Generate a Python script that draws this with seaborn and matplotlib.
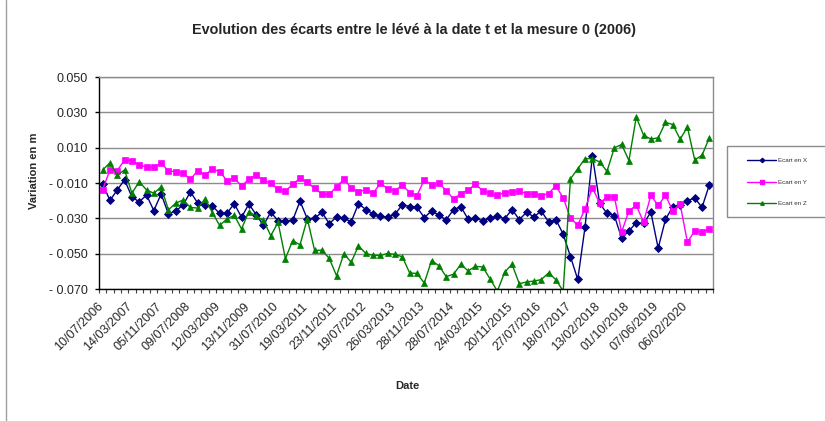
import numpy as np
import seaborn as sns
import matplotlib.pyplot as plt
import matplotlib.transforms as mtransforms
from matplotlib.lines import Line2D
from matplotlib.patches import Rectangle

# Tick labels (one every 4 measurements)
dates = ['10/07/2006', '14/03/2007', '05/11/2007', '09/07/2008', '12/03/2009',
         '13/11/2009', '31/07/2010', '19/03/2011', '23/11/2011', '19/07/2012',
         '26/03/2013', '28/11/2013', '28/07/2014', '24/03/2015', '20/11/2015',
         '27/07/2016', '18/07/2017', '13/02/2018', '01/10/2018', '07/06/2019',
         '06/02/2020']

# Ecart en X (m)
ecart_x = [-0.0105, -0.0199, -0.0139, -0.0082, -0.0179, -0.0207, -0.0168, -0.0256,
           -0.0162, -0.0275, -0.0257, -0.0226, -0.0150, -0.0213, -0.0227, -0.0230,
           -0.0272, -0.0272, -0.0217, -0.0294, -0.0219, -0.0279, -0.0340, -0.0264,
           -0.0315, -0.0315, -0.0311, -0.0203, -0.0303, -0.0299, -0.0266, -0.0330,
           -0.0292, -0.0298, -0.0320, -0.0217, -0.0250, -0.0276, -0.0289, -0.0292,
           -0.0277, -0.0222, -0.0234, -0.0237, -0.0296, -0.0258, -0.0283, -0.0308,
           -0.0251, -0.0234, -0.0305, -0.0300, -0.0313, -0.0300, -0.0288, -0.0302,
           -0.0250, -0.0307, -0.0266, -0.0292, -0.0258, -0.0320, -0.0307, -0.0389,
           -0.0517, -0.0646, -0.0347, 0.0054, -0.0216, -0.0272, -0.0284, -0.0412,
           -0.0371, -0.0325, -0.0329, -0.0265, -0.0469, -0.0306, -0.0234, -0.0227,
           -0.0200, -0.0185, -0.0238, -0.0110]

# Ecart en Y (m)
ecart_y = [-0.0137, -0.0026, -0.0030, 0.0031, 0.0025, 0.0001, -0.0010, -0.0008,
           0.0012, -0.0031, -0.0036, -0.0044, -0.0080, -0.0030, -0.0056, -0.0021,
           -0.0035, -0.0086, -0.0071, -0.0118, -0.0078, -0.0054, -0.0084, -0.0101,
           -0.0136, -0.0147, -0.0107, -0.0073, -0.0097, -0.0131, -0.0162, -0.0165,
           -0.0120, -0.0080, -0.0126, -0.0150, -0.0137, -0.0158, -0.0101, -0.0133,
           -0.0143, -0.0112, -0.0154, -0.0171, -0.0082, -0.0110, -0.0101, -0.0143,
           -0.0190, -0.0160, -0.0139, -0.0107, -0.0144, -0.0158, -0.0169, -0.0154,
           -0.0150, -0.0145, -0.0161, -0.0163, -0.0171, -0.0160, -0.0116, -0.0184,
           -0.0298, -0.0338, -0.0245, -0.0127, -0.0215, -0.0178, -0.0178, -0.0378,
           -0.0257, -0.0227, -0.0321, -0.0170, -0.0227, -0.0170, -0.0257, -0.0219,
           -0.0435, -0.0371, -0.0378, -0.0359]

# Ecart en Z (m)
ecart_z = [-0.0026, 0.0014, -0.0056, -0.0026, -0.0158, -0.0093, -0.0139, -0.0158,
           -0.0122, -0.0252, -0.0214, -0.0196, -0.0238, -0.0242, -0.0191, -0.0267,
           -0.0340, -0.0304, -0.0283, -0.0360, -0.0262, -0.0288, -0.0312, -0.0398,
           -0.0323, -0.0528, -0.0426, -0.0450, -0.0302, -0.0482, -0.0480, -0.0527,
           -0.0625, -0.0500, -0.0549, -0.0455, -0.0499, -0.0510, -0.0510, -0.0499,
           -0.0504, -0.0518, -0.0609, -0.0612, -0.0666, -0.0539, -0.0568, -0.0630,
           -0.0616, -0.0561, -0.0597, -0.0572, -0.0575, -0.0643, -0.0712, -0.0605,
           -0.0560, -0.0670, -0.0660, -0.0655, -0.0647, -0.0609, -0.0647, -0.0712,
           -0.0077, -0.0019, 0.0038, 0.0038, 0.0019, -0.0034, 0.0099, 0.0118,
           0.0027, 0.0273, 0.0171, 0.0148, 0.0156, 0.0243, 0.0231, 0.0148,
           0.0216, 0.0031, 0.0057, 0.0156]

y_ticks = [0.05, 0.03, 0.01, -0.01, -0.03, -0.05, -0.07]
y_labels = ['0.050', '0.030', '0.010', '- 0.010', '- 0.030', '- 0.050', '- 0.070']

sns.set_style('white')
plt.rcParams['font.family'] = ['Liberation Sans', 'DejaVu Sans']

n = len(ecart_x)
idx = np.arange(n)

fig = plt.figure(figsize=(8.25, 4.21), dpi=100)
ax = fig.add_axes([99 / 825, 1 - 289 / 421, 614 / 825, 212 / 421])

sns.lineplot(x=idx, y=ecart_x, ax=ax, color='#000080', lw=1, marker='D',
             markersize=3.8, markeredgecolor='#000080', markeredgewidth=0.6, legend=False)
sns.lineplot(x=idx, y=ecart_y, ax=ax, color='#FF00FF', lw=1, marker='s',
             markersize=5, markeredgecolor='#FF00FF', markeredgewidth=0.5, legend=False)
sns.lineplot(x=idx, y=ecart_z, ax=ax, color='#008000', lw=1, marker='^',
             markersize=5, markeredgecolor='#008000', markeredgewidth=0.5, legend=False)

ax.set_xlim(-0.5, n - 0.5)
ax.set_ylim(-0.07, 0.05)
ax.set_yticks(y_ticks)
ax.set_yticklabels(y_labels, fontsize=9)
ax.set_xticks(np.arange(0, n, 4))
ax.set_xticklabels(dates, rotation=45, ha='right', va='top', fontsize=9)
ax.set_xticks(np.arange(-0.5, n, 1), minor=True)
ax.tick_params(axis='x', which='major', length=0, pad=6)
ax.tick_params(axis='x', which='minor', length=3, width=0.8, color='#404040', direction='out', bottom=True)
ax.tick_params(axis='y', length=3, width=1, color='black', direction='out', left=True, pad=5)
ax.set_xlabel('')
ax.set_ylabel('')

# nudge date labels a little right/down like the original
shift = mtransforms.ScaledTranslation(3 / 100, -3 / 100, fig.dpi_scale_trans)
for lab in ax.get_xticklabels():
    lab.set_transform(lab.get_transform() + shift)

ax.yaxis.grid(True, color='#8c8c8c', lw=1)
ax.set_axisbelow(True)
for s in ['left', 'bottom']:
    ax.spines[s].set_color('black')
    ax.spines[s].set_linewidth(1)
for s in ['top', 'right']:
    ax.spines[s].set_color('#8c8c8c')
    ax.spines[s].set_linewidth(1)

fig.text(414 / 825, 1 - 30 / 421,
         'Evolution des écarts entre le lévé à la date t et la mesure 0 (2006)',
         ha='center', va='center', fontsize=10.4, fontweight='bold')
fig.text(34 / 825, 1 - 171 / 421, 'Variation en m', rotation=90,
         ha='center', va='center', fontsize=8, fontweight='bold')
fig.text(407 / 825, 1 - 386 / 421, 'Date', ha='center', va='center',
         fontsize=8, fontweight='bold')

# legend box
fig.patches.append(Rectangle((727 / 825, 1 - 217 / 421), 110 / 825, 71 / 421,
                             transform=fig.transFigure, fill=False,
                             edgecolor='#8c8c8c', lw=1))
handles = [
    Line2D([], [], color='#000080', lw=1, marker='D', markersize=2.2),
    Line2D([], [], color='#FF00FF', lw=1, marker='s', markersize=2.5),
    Line2D([], [], color='#008000', lw=1, marker='^', markersize=2.5),
]
leg = fig.legend(handles, ['Ecart en X', 'Ecart en Y', 'Ecart en Z'],
                 loc='center left', bbox_to_anchor=(744 / 825, 1 - 182 / 421),
                 frameon=False, fontsize=4.5, handlelength=4.6,
                 handletextpad=0.4, labelspacing=2.6, borderpad=0)
for t in leg.get_texts():
    t.set_color('#333333')

# chart area border (left edge)
fig.add_artist(Line2D([6 / 825, 6 / 825], [0, 1], transform=fig.transFigure,
                      color='#a0a0a0', lw=1))

fig.savefig('out.png', dpi=100)
